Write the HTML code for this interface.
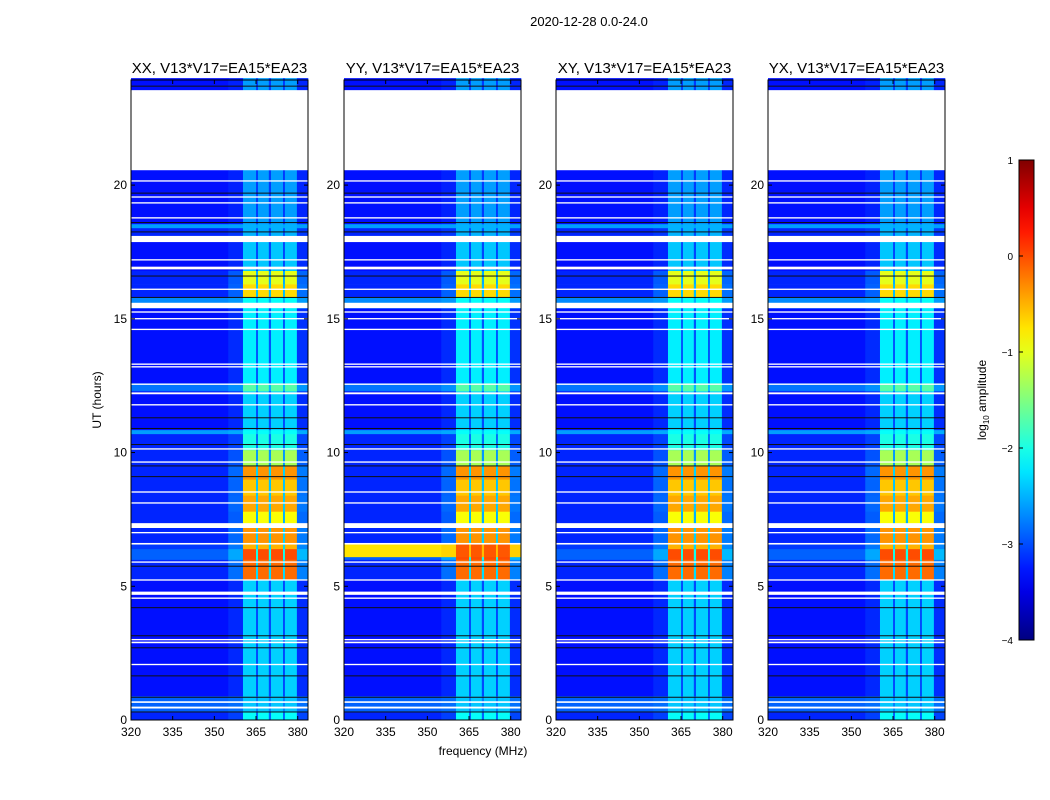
<!DOCTYPE html>
<html><head><meta charset="utf-8">
<style>
html,body{margin:0;padding:0;background:#fff;}
svg{display:block;font-family:"Liberation Sans",sans-serif;}
</style></head>
<body>
<svg id="fig" width="1050" height="800" viewBox="0 0 1050 800" xmlns="http://www.w3.org/2000/svg">
<rect width="1050" height="800" fill="#fff"/>
<text x="589" y="26" font-size="13" text-anchor="middle">2020-12-28 0.0-24.0</text>
<text x="483" y="755" font-size="12" text-anchor="middle">frequency (MHz)</text>
<text x="101" y="400" font-size="12" text-anchor="middle" transform="rotate(-90 101 400)">UT (hours)</text>
<g id="panels"></g>
<g id="cbar"></g>
</svg>
<script>
// ---- data ----
const panelTitles = ["XX, V13*V17=EA15*EA23","YY, V13*V17=EA15*EA23","XY, V13*V17=EA15*EA23","YX, V13*V17=EA15*EA23"];
const xTicks = [320,335,350,365,380];
const yTicks = [0,5,10,15,20];
const cbTicks = [-4,-3,-2,-1,0,1];
// frequency profile: edges (MHz) and band weights
const freqEdges = [320,355,360.3,365,365.7,369.6,370.4,374.7,375.4,379.7,383.7];
const freqWeight = [0,0.12,1,0.3,1,0.3,1,0.3,1,0.15];
// time segments (hours): start, end, background log amp, band log amp
const segStart = [0,0.3,0.9,5.23,6.0,6.4,6.6,7.36,7.8,8.4,9.0,9.5,10.1,10.7,10.85,12.3,12.6,15.4,15.8,16.3,16.8,17.9,18.4,18.55,23.55];
const segEnd   = [0.3,0.9,5.23,6.0,6.4,6.6,7.18,7.8,8.4,9.0,9.5,10.1,10.7,10.85,12.3,12.6,15.4,15.8,16.3,16.8,17.9,18.4,18.55,20.56,24];
const segBg    = [-3.2,-2.9,-3.3,-3.2,-2.9,-3.1,-3.2,-3.2,-3.2,-3.2,-3.2,-3.2,-3.2,-2.6,-3.3,-2.8,-3.3,-2.7,-3.2,-3.2,-3.3,-3.2,-2.6,-3.3,-3.3];
const segBand  = [-2.1,-2.4,-2.35,-0.15,0.0,-0.5,-0.35,-0.9,-0.45,-0.6,-0.35,-1.3,-2.0,-2.1,-2.35,-1.7,-2.2,-2.1,-0.7,-1.0,-2.4,-2.5,-2.5,-2.6,-2.6];
// YY broadband interference segment
const yyStart = [6.1], yyEnd = [6.6], yyBg = [-0.75], yyBand = [-0.05];
// flagged (white) rows, hours start/end
const whiteStart = [0.43,0.64,2.05,2.87,2.98,4.53,4.68,5.21,5.88,6.56,6.98,7.18,8.09,8.5,9.62,10.11,11.76,12.18,12.53,13.18,13.28,14.58,14.98,15.23,15.4,16.08,16.85,17.18,17.87,18.75,19.31,19.53,20.13,20.56];
const whiteEnd   = [0.5,0.7,2.1,2.93,3.03,4.58,4.8,5.26,5.93,6.62,7.03,7.36,8.14,8.55,9.67,10.16,11.81,12.25,12.58,13.23,13.33,14.63,15.03,15.28,15.6,16.13,16.95,17.23,18.1,18.8,19.36,19.58,20.18,23.55];
// dead (black) rows
const blackH = [0.3,0.85,1.65,2.7,3.15,4.2,5.75,9.1,9.5,10.3,10.9,11.3,15.8,16.6,18.25,18.6,19.7,23.7];

// ---- helpers ----
const NS="http://www.w3.org/2000/svg";
function jet(v){ // v in log amp, range -4..1
  let t=(v+4)/5; t=Math.max(0,Math.min(1,t));
  const f=x=>Math.max(0,Math.min(1,x));
  const r=f(Math.min(4*t-1.5,-4*t+4.5)), g=f(Math.min(4*t-0.5,-4*t+3.5)), b=f(Math.min(4*t+0.5,-4*t+2.5));
  return `rgb(${Math.round(r*255)},${Math.round(g*255)},${Math.round(b*255)})`;
}
const panelX=[131,344,556,768], pW=177, pTop=80, pBot=720;
const fMin=320, fMax=383.7, hMax=23.93;
function mk(tag,attrs,parent){const e=document.createElementNS(NS,tag);for(const k in attrs)e.setAttribute(k,attrs[k]);parent.appendChild(e);return e;}
const panels=document.getElementById('panels');

panelX.forEach((px,pi)=>{
  const xs=f=>px+(f-fMin)/(fMax-fMin)*pW;
  const ys=h=>pBot-h/hMax*(pBot-pTop);
  const g=mk('g',{},panels);
  
  
  mk('rect',{x:px,y:pTop,width:pW,height:pBot-pTop,fill:'#fff'},g);
  function drawSeg(h0,h1,bg,band,name){
    const y0=ys(h1), hh=ys(h0)-ys(h1);
    for(let i=0;i<freqWeight.length;i++){
      const v=bg+freqWeight[i]*(band-bg);
      const r=mk('rect',{x:xs(freqEdges[i]),y:y0,width:xs(freqEdges[i+1])-xs(freqEdges[i])+0.3,height:hh+0.3,fill:jet(v)},g);
      
      
    }
  }
  for(let s=0;s<segStart.length;s++) drawSeg(segStart[s],segEnd[s],segBg[s],segBand[s],'heatmap-cell');
  if(pi===1) for(let s=0;s<yyStart.length;s++) drawSeg(yyStart[s],yyEnd[s],yyBg[s],yyBand[s],'interference-cell');
  for(let s=0;s<whiteStart.length;s++){
    const r=mk('rect',{x:px,y:ys(whiteEnd[s]),width:pW,height:Math.max(1,ys(whiteStart[s])-ys(whiteEnd[s])),fill:'#fff'},g);
    
    
  }
  for(let s=0;s<blackH.length;s++){
    const r=mk('rect',{x:px,y:ys(blackH[s])-0.5,width:pW,height:1,fill:'#111'},g);
    
    
  }
  mk('rect',{x:px,y:pTop,width:pW,height:pBot-pTop,fill:'none',stroke:'#000','stroke-width':1},g);
  const t=mk('text',{x:px+pW/2,y:73,'font-size':15,'text-anchor':'middle'},g);
  t.textContent=panelTitles[pi];
  
  
  xTicks.forEach(v=>{
    const x=xs(v);
    mk('line',{x1:x,x2:x,y1:pBot,y2:pBot-4,stroke:'#000'},g);
    mk('line',{x1:x,x2:x,y1:pTop,y2:pTop+4,stroke:'#000'},g);
    const l=mk('text',{x:x,y:736,'font-size':12,'text-anchor':'middle'},g);
    l.textContent=v;
    
    
  });
  yTicks.forEach(v=>{
    const y=ys(v);
    mk('line',{x1:px,x2:px+4,y1:y,y2:y,stroke:'#000'},g);
    mk('line',{x1:px+pW,x2:px+pW-4,y1:y,y2:y,stroke:'#000'},g);
    const l=mk('text',{x:px-4,y:y+4,'font-size':12,'text-anchor':'end'},g);
    l.textContent=v;
    
    
  });
});

// colorbar
const cb=document.getElementById('cbar');
const defs=mk('defs',{},cb);
const grad=mk('linearGradient',{id:'jetg',x1:0,y1:1,x2:0,y2:0},defs);
for(let i=0;i<=20;i++){const v=-4+5*i/20;mk('stop',{offset:i/20,'stop-color':jet(v)},grad);}
const cbX=1019,cbW=15,cbT=160,cbB=640;
mk('rect',{x:cbX,y:cbT,width:cbW,height:cbB-cbT,fill:'url(#jetg)',stroke:'#000','stroke-width':1},cb);
cbTicks.forEach(v=>{
  const y=cbB-(v+4)/5*(cbB-cbT);
  mk('line',{x1:cbX,x2:cbX+4,y1:y,y2:y,stroke:'#000'},cb);
  const l=mk('text',{x:1013,y:y+4,'font-size':10,'text-anchor':'end'},cb);
  l.textContent=(v<0?'\u2212'+(-v):v);
  
  
});
const cl=mk('text',{x:986,y:400,'font-size':12,'text-anchor':'middle',transform:'rotate(-90 986 400)'},cb);
cl.innerHTML='log<tspan font-size="8" dy="3">10</tspan><tspan dy="-3"> amplitude</tspan>';


</script>
</body></html>
